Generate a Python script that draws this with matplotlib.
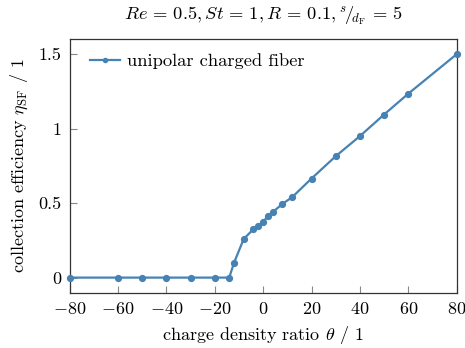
import matplotlib
matplotlib.use("Agg")
import matplotlib.pyplot as plt

plt.rcParams["font.family"] = "serif"
plt.rcParams["font.serif"] = ["cmr10"]
plt.rcParams["mathtext.fontset"] = "cm"
plt.rcParams["axes.formatter.use_mathtext"] = True
plt.rcParams["font.size"] = 13

# charge density ratio and collection efficiency
theta = [-80, -60, -50, -40, -30, -20, -14, -12, -8, -4, -2, 0, 2, 4, 8, 12, 20, 30, 40, 50, 60, 80]
eta = [0, 0, 0, 0, 0, 0, 0, 0.10, 0.26, 0.325, 0.345, 0.372, 0.415, 0.44, 0.495, 0.54,
       0.665, 0.815, 0.95, 1.095, 1.235, 1.50]

xticks = [-80, -60, -40, -20, 0, 20, 40, 60, 80]
yticks = [0, 0.5, 1, 1.5]
ytick_labels = ["0", "0.5", "1", "1.5"]

color = "#4682b4"

fig = plt.figure(figsize=(4.65, 3.48), dpi=100)
ax = fig.add_axes([69.5 / 465, 1 - 292.5 / 348, (456.7 - 69.5) / 465, (292.5 - 39.3) / 348])

ax.plot(theta, eta, color=color, lw=1.6, marker="o", ms=4.2, label="unipolar charged fiber",
        clip_on=False, zorder=3)

ax.set_xlim(-80, 80)
ax.set_ylim(-0.1, 1.6)
ax.set_xticks(xticks)
ax.set_yticks(yticks)
ax.set_yticklabels(ytick_labels)
ax.tick_params(direction="in", length=5, width=0.8, color="#888888", pad=6,
               top=False, right=False)
for s in ax.spines.values():
    s.set_color("#333333")
    s.set_linewidth(0.9)

ax.set_xlabel(r"charge density ratio $\theta$ / 1", labelpad=5)
ax.set_ylabel(r"collection efficiency $\eta_{\mathrm{SF}}$ / 1", labelpad=6)
ax.set_title(r"$Re\,=\,0.5, St\,=\,1, R\,=\,0.1, {}^{s}\!/\!{}_{d_{\mathrm{F}}}\,=\,5$",
             fontsize=13.3, pad=14)

ax.legend(loc="upper left", bbox_to_anchor=(0.016, 1.0), frameon=False,
          handlelength=1.65, handletextpad=0.4, borderaxespad=0.35,
          markerscale=0.7, fontsize=13.3)

fig.savefig("out.png", dpi=100)
